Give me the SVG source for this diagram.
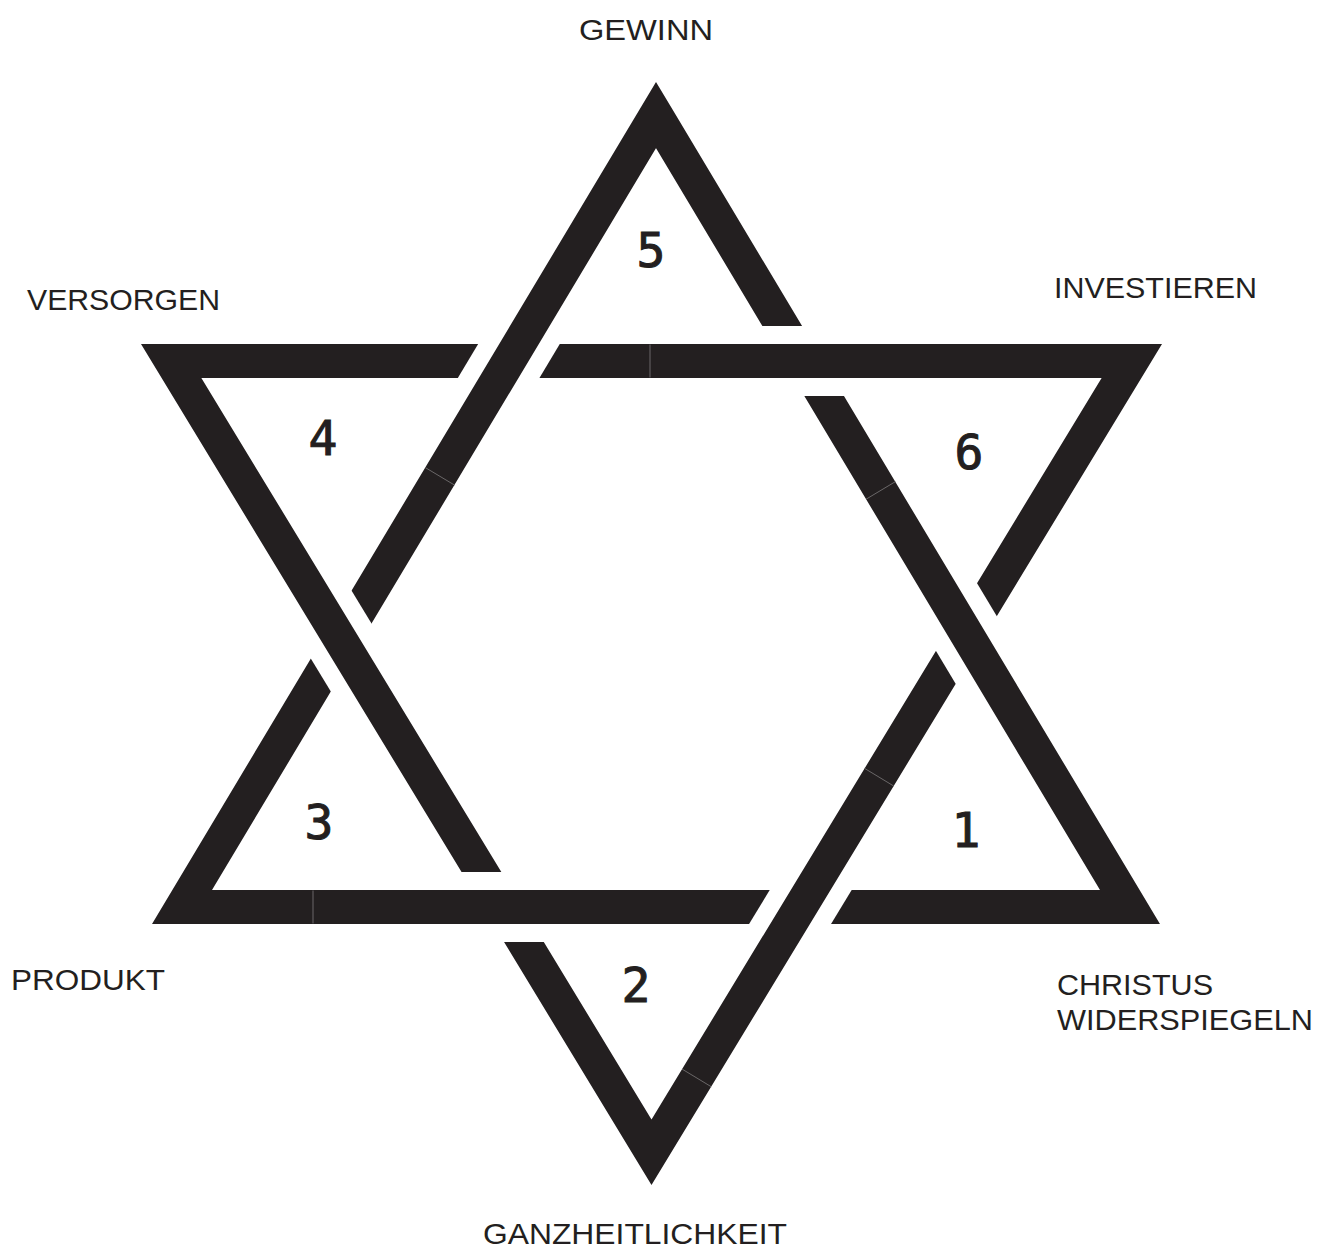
<svg xmlns="http://www.w3.org/2000/svg" width="1328" height="1253" viewBox="0 0 1328 1253">
<style>
.band{fill:none;stroke:#231f20;stroke-width:34;stroke-linejoin:miter;stroke-miterlimit:6}
.cut{stroke:#000;stroke-width:70;stroke-linecap:butt;fill:none}
.seam{stroke:#6a6768;stroke-width:1}
.lbl{font-family:"Liberation Sans","Open Sans",sans-serif;font-size:30px;fill:#231f20}
.num{font-family:"DejaVu Sans Mono","Liberation Mono",monospace;font-size:48px;fill:#231f20;stroke:#231f20;stroke-width:1;text-anchor:middle}
</style>
<defs>
<mask id="m-down" maskUnits="userSpaceOnUse" x="0" y="0" width="1328" height="1253">
<rect x="0" y="0" width="1328" height="1253" fill="#fff"/>
<line class="cut" x1="545.3" y1="300" x2="473.5" y2="420"/>
<line class="cut" x1="931.3" y1="575" x2="1001.4" y2="692"/>
<line class="cut" x1="430" y1="907" x2="575" y2="907"/>
</mask>
<mask id="m-up" maskUnits="userSpaceOnUse" x="0" y="0" width="1328" height="1253">
<rect x="0" y="0" width="1328" height="1253" fill="#fff"/>
<line class="cut" x1="720" y1="361" x2="890" y2="361"/>
<line class="cut" x1="838" y1="845" x2="762.1" y2="970"/>
<line class="cut" x1="304.1" y1="580" x2="378.2" y2="702"/>
</mask>
</defs>
<g id="connectors">
<path id="triangle-up" class="band" mask="url(#m-up)" d="M656,115.1 L1130,907 L182,907 Z"/>
<path id="triangle-down" class="band" mask="url(#m-down)" d="M171.2,361 L1131.8,361 L651.5,1152.2 Z"/>
<g id="seams">
<line class="seam" x1="650" y1="344.5" x2="650" y2="377.5"/>
<line class="seam" x1="313" y1="890.5" x2="313" y2="923.5"/>
<line class="seam" x1="425.2" y1="467.5" x2="454.4" y2="485"/>
<line class="seam" x1="895.3" y1="481.7" x2="866.1" y2="499.2"/>
<line class="seam" x1="893.7" y1="786" x2="864.6" y2="768.4"/>
<line class="seam" x1="711.2" y1="1086.7" x2="682.1" y2="1069.1"/>
</g>
</g>
<g id="node-1"><text class="num" x="966" y="847">1</text></g>
<g id="node-2"><text class="num" x="636" y="1002">2</text></g>
<g id="node-3"><text class="num" x="319" y="839">3</text></g>
<g id="node-4"><text class="num" x="323" y="455">4</text></g>
<g id="node-5"><text class="num" x="651" y="267">5</text></g>
<g id="node-6"><text class="num" x="969" y="469">6</text></g>
<g id="label-gewinn"><text class="lbl" x="579" y="40" textLength="134" lengthAdjust="spacingAndGlyphs">GEWINN</text></g>
<g id="label-investieren"><text class="lbl" x="1054" y="298" textLength="203" lengthAdjust="spacingAndGlyphs">INVESTIEREN</text></g>
<g id="label-versorgen"><text class="lbl" x="27" y="310" textLength="193" lengthAdjust="spacingAndGlyphs">VERSORGEN</text></g>
<g id="label-produkt"><text class="lbl" x="11" y="990" textLength="154" lengthAdjust="spacingAndGlyphs">PRODUKT</text></g>
<g id="label-christus"><text class="lbl" x="1057" y="995" textLength="156" lengthAdjust="spacingAndGlyphs">CHRISTUS</text><text class="lbl" x="1057" y="1030" textLength="256" lengthAdjust="spacingAndGlyphs">WIDERSPIEGELN</text></g>
<g id="label-ganzheitlichkeit"><text class="lbl" x="483" y="1244" textLength="304" lengthAdjust="spacingAndGlyphs">GANZHEITLICHKEIT</text></g>
</svg>
